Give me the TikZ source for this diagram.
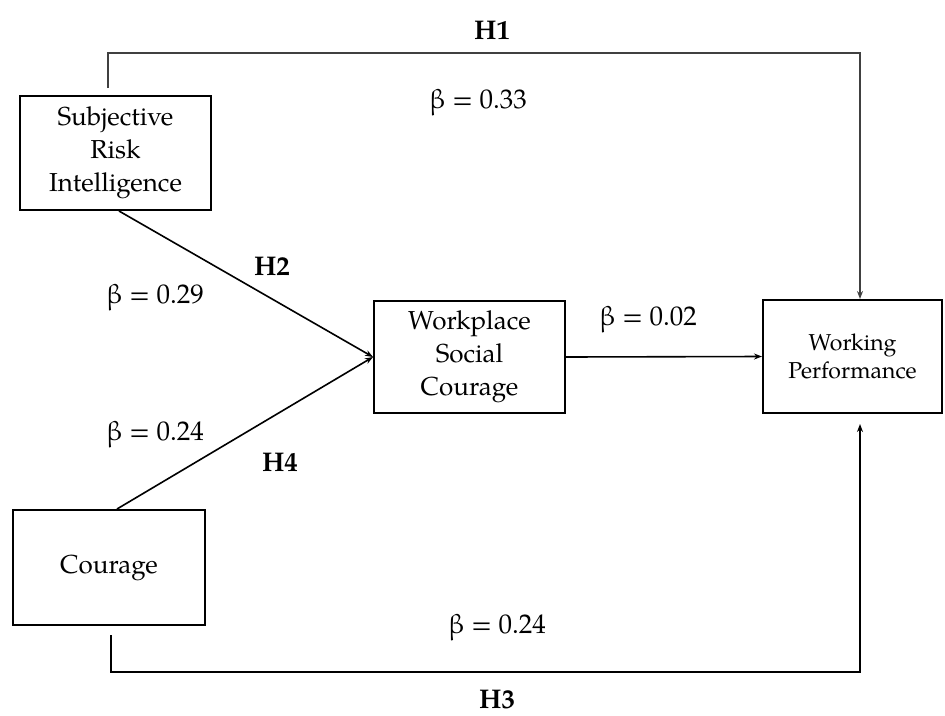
\documentclass[tikz,border=0pt]{standalone}
\usepackage{fontspec}
\setmainfont{TeX Gyre Pagella}
\usetikzlibrary{arrows.meta}
\begin{document}
\begin{tikzpicture}[x=1pt,y=-1pt,
  box/.style={draw,line width=2pt,align=center,inner sep=0pt,font=\fontsize{26}{33}\selectfont},
  conn/.style={line width=1.6pt,-{Stealth[length=8pt,width=6pt]}},
  beta/.style={font=\fontsize{27}{32}\selectfont,inner sep=0pt},
  hyp/.style={font=\fontsize{27}{32}\selectfont\bfseries,inner sep=0pt}]
\useasboundingbox (0,0) rectangle (945,715);
\node[box,minimum width=191pt,minimum height=114pt] (sri) at (115.5,153) {Subjective\\Risk\\Intelligence};
\node[box,minimum width=192pt,minimum height=115pt] (cou) at (109,567.5) {Courage};
\node[box,minimum width=191pt,minimum height=112pt] (wsc) at (469.5,357) {Workplace\\Social\\Courage};
\node[box,minimum width=179pt,minimum height=113pt,font=\fontsize{23}{28}\selectfont] (wp) at (852.5,356.5) {Working\\Performance};
\coordinate (h1a) at (108,53);
\coordinate (h1b) at (860,53);
\coordinate (h3a) at (111,672);
\coordinate (h3b) at (860,672);
\coordinate (h2s) at (119,0);
\coordinate (h4s) at (117,0);
\draw[conn,draw=black!75] ([yshift=7pt]sri.north -| h1a) -- (h1a) -- (h1b) -- (wp.north -| h1b);
\draw[conn,shorten >=10pt] ([yshift=-9pt]cou.south -| h3a) -- (h3a) -- (h3b) -- (wp.south -| h3b);
\draw[conn] (sri.south -| h2s) -- (wsc.west);
\draw[conn] (cou.north -| h4s) -- (wsc.west);
\draw[conn] (wsc.east) -- (wp.west);
\node[hyp] (lh1) at (492,30) {H1};
\node[beta] (b1) at (478,103) {β = 0.33};
\node[hyp] (lh2) at (272,266) {H2};
\node[beta] (b2) at (155,298) {β = 0.29};
\node[beta] (b5) at (648,320) {β = 0.02};
\node[beta] (b4) at (155,435) {β = 0.24};
\node[hyp] (lh4) at (280,462) {H4};
\node[beta] (b3) at (497,628) {β = 0.24};
\node[hyp] (lh3) at (497,700) {H3};
\end{tikzpicture}
\end{document}
